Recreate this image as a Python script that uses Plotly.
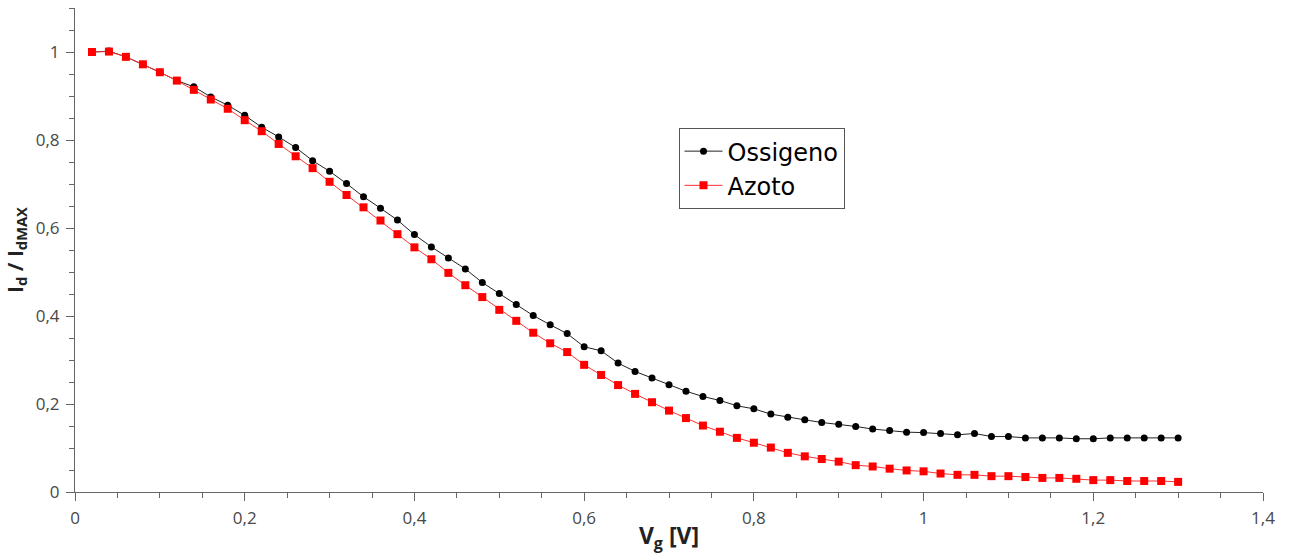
import plotly.graph_objects as go

vg = [round(0.02 * i, 2) for i in range(1, 66)]

ossigeno = [1.000, 1.002, 0.989, 0.972, 0.954, 0.935, 0.921, 0.898, 0.879, 0.856,
            0.829, 0.807, 0.783, 0.753, 0.729, 0.701, 0.671, 0.645, 0.618, 0.585,
            0.557, 0.532, 0.507, 0.476, 0.451, 0.426, 0.401, 0.380, 0.360, 0.330,
            0.321, 0.293, 0.274, 0.259, 0.244, 0.229, 0.217, 0.208, 0.196, 0.189,
            0.177, 0.170, 0.164, 0.158, 0.154, 0.149, 0.143, 0.140, 0.136, 0.135,
            0.133, 0.130, 0.133, 0.126, 0.126, 0.123, 0.123, 0.123, 0.121, 0.121,
            0.123, 0.123, 0.123, 0.123, 0.123]

azoto = [1.000, 1.001, 0.989, 0.972, 0.954, 0.935, 0.914, 0.892, 0.871, 0.845,
         0.820, 0.791, 0.763, 0.736, 0.705, 0.675, 0.647, 0.617, 0.586, 0.556,
         0.529, 0.498, 0.470, 0.443, 0.414, 0.389, 0.362, 0.338, 0.318, 0.289,
         0.266, 0.243, 0.223, 0.204, 0.185, 0.168, 0.151, 0.137, 0.123, 0.112,
         0.101, 0.089, 0.081, 0.075, 0.069, 0.061, 0.058, 0.053, 0.049, 0.047,
         0.042, 0.039, 0.039, 0.036, 0.036, 0.034, 0.032, 0.032, 0.030, 0.027,
         0.027, 0.025, 0.025, 0.025, 0.023]

fig = go.Figure()
fig.add_trace(go.Scatter(x=vg, y=ossigeno, name="Ossigeno", mode="lines+markers",
                         line=dict(color="#222222", width=1),
                         marker=dict(symbol="circle", size=7, color="#000000")))
fig.add_trace(go.Scatter(x=vg, y=azoto, name="Azoto", mode="lines+markers",
                         line=dict(color="#ff3030", width=1),
                         marker=dict(symbol="square", size=8, color="#ff0000")))

axis_common = dict(showgrid=False, zeroline=False, showline=True, linecolor="#666666",
                   linewidth=1, ticks="outside", ticklen=8, tickcolor="#666666",
                   ticklabelstandoff=3, automargin=False,
                   tickfont=dict(family="Open Sans", size=17, color="#484848"))

fig.update_layout(
    width=1293, height=554,
    margin=dict(l=75, r=30, t=8, b=62),
    paper_bgcolor="white", plot_bgcolor="white",
    separators=", ",
    showlegend=True,
    legend=dict(x=0.508, y=0.752, xanchor="left", yanchor="top",
                bordercolor="#555555", borderwidth=1, bgcolor="white",
                font=dict(family="DejaVu Sans", size=24, color="#000000"),
                tracegroupgap=0, itemwidth=38),
    xaxis=dict(range=[0, 1.4], dtick=0.2, tick0=0,
               minor=dict(dtick=0.05, ticks="outside", ticklen=5, tickcolor="#666666"),
               title=dict(text="<b>V<sub>g</sub> [V]</b>", standoff=4,
                          font=dict(family="Open Sans", size=23, color="#222222")),
               **axis_common),
    yaxis=dict(range=[0, 1.1], dtick=0.2, tick0=0,
               minor=dict(dtick=0.05, ticks="outside", ticklen=5, tickcolor="#666666"),
               title=dict(text="<b>I<sub>d</sub> / I<sub>dMAX</sub></b>", standoff=6,
                          font=dict(family="Open Sans", size=21, color="#222222")),
               **axis_common),
)

fig.write_html("out.html")
